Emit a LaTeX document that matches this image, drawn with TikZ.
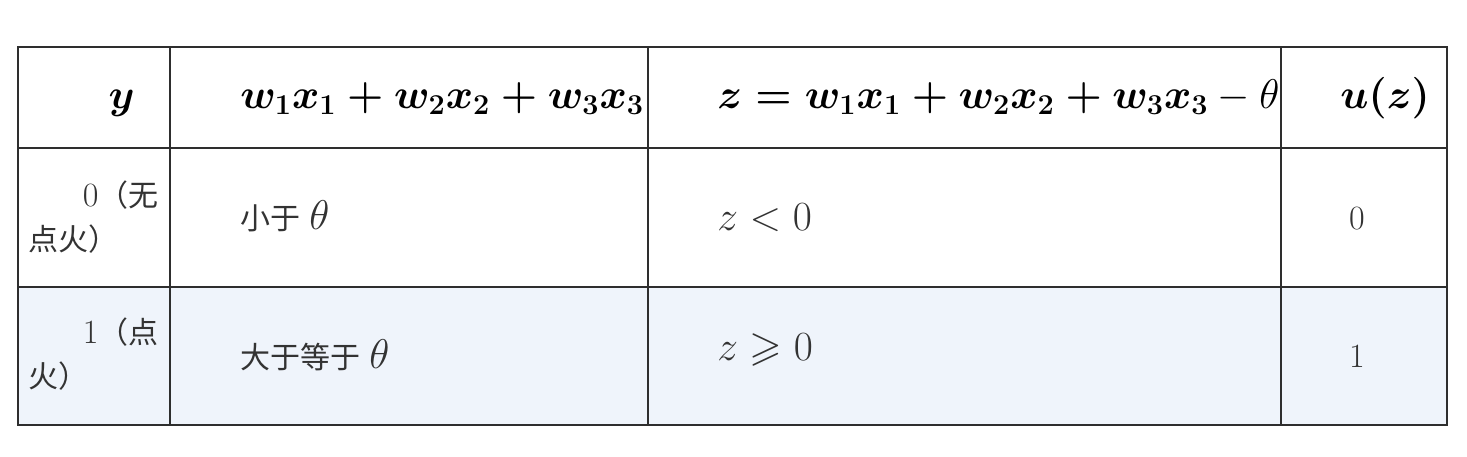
\documentclass[tikz,border=0pt]{standalone}
\usepackage{amsmath}
\usepackage{amssymb}
\usepackage{fontspec}
\newfontfamily\cjk{Noto Sans CJK SC}
\usepackage{tikz}
\usetikzlibrary{positioning}
\definecolor{zeileblau}{HTML}{EFF4FB}
\definecolor{linie}{HTML}{2E2E2E}
\definecolor{schrift}{HTML}{333333}
\newcommand{\ziffer}{\fontsize{17}{22}\selectfont}
\newcommand{\winkel}{\fontsize{21}{22}\selectfont}
\tikzstyle{kopf} = [anchor=base west, inner sep=0pt, text=black, font=\fontsize{19.2}{24}\selectfont]
\tikzstyle{zelle} = [anchor=base west, inner sep=0pt, text=schrift, font=\fontsize{15}{22}\selectfont]
\tikzstyle{formel} = [anchor=base west, inner sep=0pt, text=schrift, font=\fontsize{21}{22}\selectfont]
\tikzstyle{wert} = [anchor=north west, inner sep=0pt, text=schrift, text width=65pt, align=left, font=\fontsize{15}{22}\selectfont]
\tikzstyle{gitter} = [draw=linie, line width=1pt]

\begin{document}
\begin{tikzpicture}[x=0.5pt, y=-0.5pt]
	\useasboundingbox (0,0) rectangle (1467,456);
	\fill[zeileblau] (18,287) rectangle (1447,425);
	\draw[gitter] (18,47) rectangle (1447,425);
	\foreach \x in {170,648,1281}
		\draw[gitter] (\x,47) -- (\x,425);
	\foreach \y in {148,287}
		\draw[gitter] (18,\y) -- (1447,\y);
	\node (y) at (135,108) [kopf, anchor=base east] {$\boldsymbol{y}$};
	\node (summe) at (240,108) [kopf] {$\boldsymbol{w_1x_1+w_2x_2+w_3x_3}$};
	\node (zdef) at (717,108) [kopf] {$\boldsymbol{z=w_1x_1+w_2x_2+w_3x_3}-\theta$};
	\node (uz) at (1340,108) [kopf, font=\fontsize{22}{24}\selectfont] {$\boldsymbol{u(z)}$};
	\node (y0) at (28,180) [wert] {\hfill {\ziffer 0}{\cjk （无}\\{\cjk 点火）}};
	\node (klein) at (240,229) [zelle] {{\cjk 小于} {\winkel$\theta$}};
	\node (zneg) at (717,230) [formel] {$z<0$};
	\node (u0) at (1357,229) [zelle, anchor=base] {\ziffer 0};
	\node (y1) at (28,317) [wert] {\hfill {\ziffer 1}{\cjk （点}\\{\cjk 火）}};
	\node (gross) at (240,368) [zelle] {{\cjk 大于等于} {\winkel$\theta$}};
	\node (zpos) at (717,360) [formel] {$z\geqslant 0$};
	\node (u1) at (1357,367) [zelle, anchor=base] {\ziffer 1};
\end{tikzpicture}
\end{document}
